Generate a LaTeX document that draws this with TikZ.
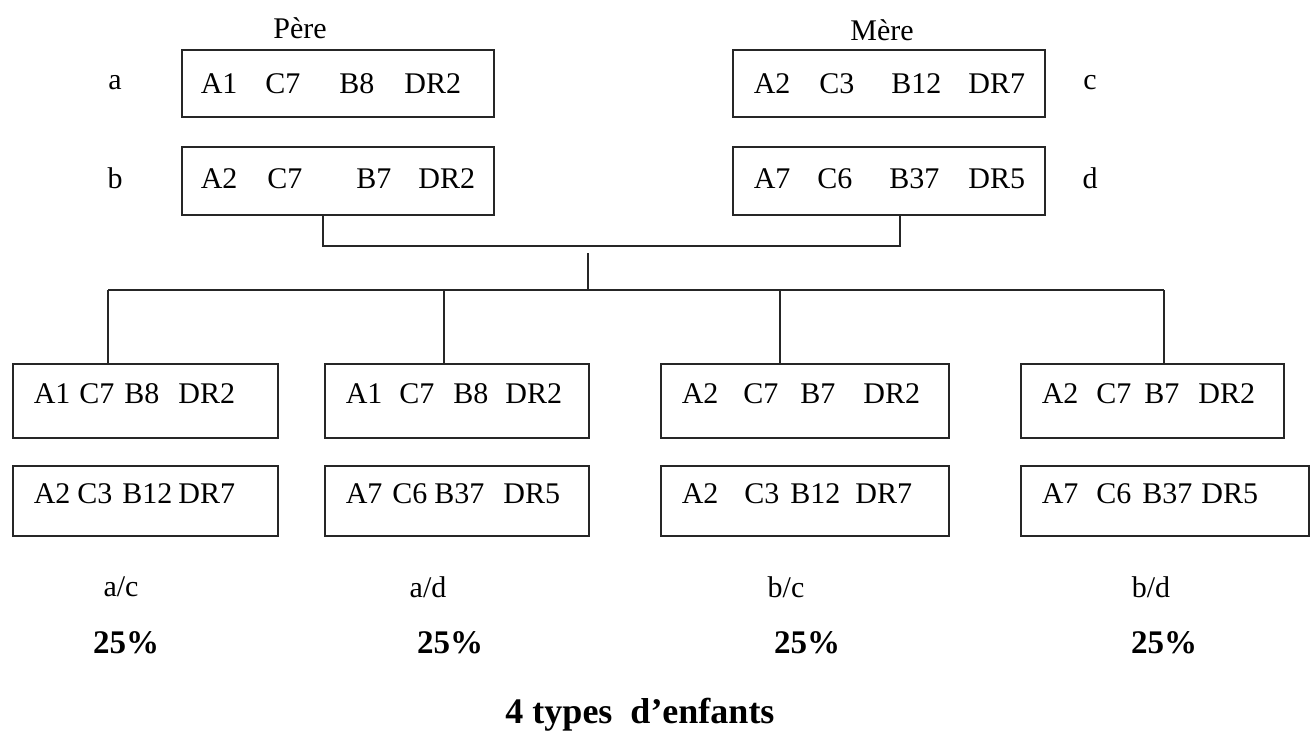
\documentclass[tikz,border=0pt]{standalone}
\usepackage{fontspec}
\setmainfont{Liberation Serif}
\newcommand{\tfont}{\fontsize{30}{36}\selectfont}
\newcommand{\cellbox}[3]{\makebox[#1][l]{\hspace{#2}#3}}
\tikzset{
  gbox/.style={draw=black!85, line width=1.6pt, rectangle, inner xsep=0pt, inner ysep=0pt, anchor=north west, font=\tfont},
  rowA/.style={gbox, text height=44pt, text depth=23pt},
  rowB/.style={gbox, text height=42pt, text depth=26pt},
  rowC/.style={gbox, text height=40pt, text depth=34pt},
  rowD/.style={gbox, text height=38pt, text depth=32pt},
  wire/.style={draw=black!85, line width=1.6pt},
  lbl/.style={font=\tfont, inner sep=0pt},
  pct/.style={font=\fontsize{33}{40}\selectfont\bfseries, inner sep=0pt},
}
\begin{document}
\begin{tikzpicture}[x=1pt,y=-1pt]
\useasboundingbox[fill=white] (0,0) rectangle (1316,740);

% parents
\node[lbl] (pere) at (300,28) {Père};
\node[lbl] (mere) at (882,30) {Mère};
\node[rowA] (a) at (181,49) {\cellbox{312pt}{19pt}{A1\hspace{28pt}C7\hspace{39pt}B8\hspace{30pt}DR2}};
\node[rowB] (b) at (181,146) {\cellbox{312pt}{19pt}{A2\hspace{30pt}C7\hspace{54pt}B7\hspace{27pt}DR2}};
\node[rowA] (c) at (732,49) {\cellbox{312pt}{21pt}{A2\hspace{29pt}C3\hspace{37pt}B12\hspace{27pt}DR7}};
\node[rowB] (d) at (732,146) {\cellbox{312pt}{21pt}{A7\hspace{27pt}C6\hspace{37pt}B37\hspace{29pt}DR5}};
\node[lbl] (la) at (115,83) {a};
\node[lbl] (lb) at (115,178) {b};
\node[lbl] (lc) at (1090,83) {c};
\node[lbl] (ld) at (1090,178) {d};

% children
\node[rowC] (c1t) at (12,363) {\cellbox{265pt}{21pt}{A1\hspace{9pt}C7\hspace{10pt}B8\hspace{19pt}DR2}};
\node[rowD] (c1b) at (12,465) {\cellbox{265pt}{21pt}{A2\hspace{7pt}C3\hspace{10pt}B12\hspace{6pt}DR7}};
\node[rowC] (c2t) at (324,363) {\cellbox{264pt}{21pt}{A1\hspace{17pt}C7\hspace{19pt}B8\hspace{17pt}DR2}};
\node[rowD] (c2b) at (324,465) {\cellbox{264pt}{21pt}{A7\hspace{10pt}C6\hspace{7pt}B37\hspace{19pt}DR5}};
\node[rowC] (c3t) at (660,363) {\cellbox{288pt}{21pt}{A2\hspace{25pt}C7\hspace{22pt}B7\hspace{28pt}DR2}};
\node[rowD] (c3b) at (660,465) {\cellbox{288pt}{21pt}{A2\hspace{26pt}C3\hspace{11pt}B12\hspace{15pt}DR7}};
\node[rowC] (c4t) at (1020,363) {\cellbox{263pt}{21pt}{A2\hspace{18pt}C7\hspace{13pt}B7\hspace{19pt}DR2}};
\node[rowD] (c4b) at (1020,465) {\cellbox{288pt}{21pt}{A7\hspace{18pt}C6\hspace{11pt}B37\hspace{9pt}DR5}};

% connectors
\coordinate (jl) at (323,246);
\coordinate (jr) at (900,246);
\draw[wire] (b.south -| jl) -- (jl) -- (jr) -- (d.south -| jr);
\coordinate (mt) at (588,253);
\coordinate (mb) at (588,290);
\draw[wire] (mt) -- (mb);
\coordinate (h1) at (108,290);
\coordinate (h2) at (444,290);
\coordinate (h3) at (780,290);
\coordinate (h4) at (1164,290);
\draw[wire] (h1) -- (h4);
\draw[wire] (h1) -- (c1t.north -| h1);
\draw[wire] (h2) -- (c2t.north -| h2);
\draw[wire] (h3) -- (c3t.north -| h3);
\draw[wire] (h4) -- (c4t.north -| h4);

% bottom labels
\node[lbl] (r1) at (121,587) {a/c};
\node[lbl] (r2) at (428,587) {a/d};
\node[lbl] (r3) at (786,587) {b/c};
\node[lbl] (r4) at (1151,587) {b/d};
\node[pct] (p1) at (126,643) {25\%};
\node[pct] (p2) at (450,643) {25\%};
\node[pct] (p3) at (807,643) {25\%};
\node[pct] (p4) at (1164,643) {25\%};
\node[font=\fontsize{36}{43}\selectfont\bfseries, inner sep=0pt] (title) at (640,715) {4 types\ \ d’enfants};
\end{tikzpicture}
\end{document}
